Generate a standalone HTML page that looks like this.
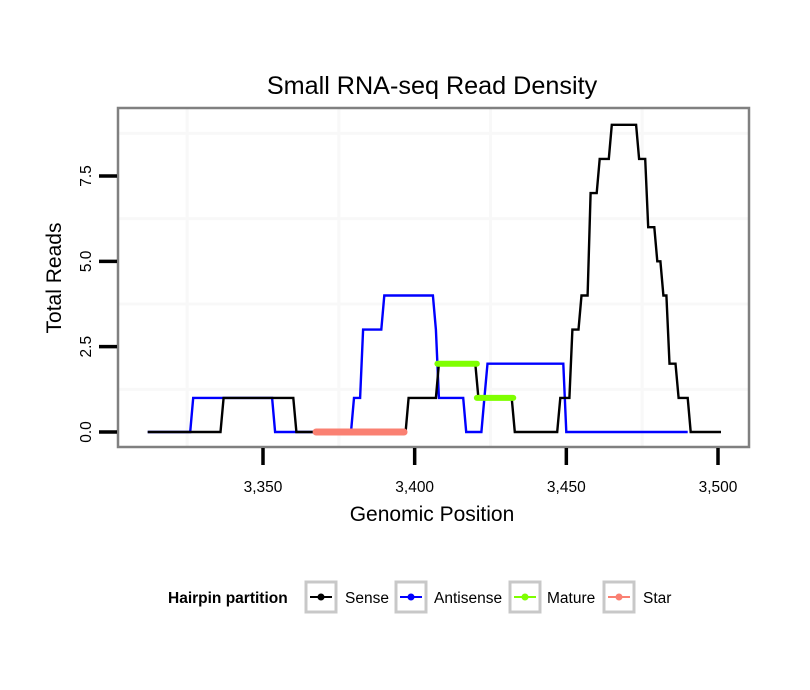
<!DOCTYPE html>
<html><head><meta charset="utf-8"><style>
html,body{margin:0;padding:0;background:#fff;}
svg{display:block;font-family:"Liberation Sans",sans-serif;}
</style></head><body>
<svg id="chart" width="810" height="690" viewBox="0 0 810 690">
<text x="432" y="94" text-anchor="middle" font-size="25.2" fill="#000">Small RNA-seq Read Density</text>
<rect x="118" y="108" width="631" height="339" fill="#fff"/>
<g id="grid"></g>
<g id="series"></g>
<rect x="118" y="108" width="631" height="339" fill="none" stroke="#808080" stroke-width="2.5"/>
<g id="axes"></g>
<text x="432" y="521" text-anchor="middle" font-size="21">Genomic Position</text>
<text transform="translate(61,278) rotate(-90)" text-anchor="middle" font-size="21">Total Reads</text>
<g>
<text x="168" y="603" font-size="15.5" font-weight="bold">Hairpin partition</text>
<g><rect x="306" y="582" width="30" height="30" fill="#fff" stroke="#c8c8c8" stroke-width="3"/><line x1="310" y1="597" x2="332" y2="597" stroke="#000" stroke-width="2"/><circle cx="321" cy="597" r="3.5" fill="#000"/><text x="345" y="603" font-size="15.5">Sense</text></g>
<g><rect x="396" y="582" width="30" height="30" fill="#fff" stroke="#c8c8c8" stroke-width="3"/><line x1="400" y1="597" x2="422" y2="597" stroke="#0000ff" stroke-width="2"/><circle cx="411" cy="597" r="3.5" fill="#0000ff"/><text x="434" y="603" font-size="15.5">Antisense</text></g>
<g><rect x="510" y="582" width="30" height="30" fill="#fff" stroke="#c8c8c8" stroke-width="3"/><line x1="514" y1="597" x2="536" y2="597" stroke="#7fff00" stroke-width="2"/><circle cx="525" cy="597" r="3.5" fill="#7fff00"/><text x="547" y="603" font-size="15.5">Mature</text></g>
<g><rect x="604" y="582" width="30" height="30" fill="#fff" stroke="#c8c8c8" stroke-width="3"/><line x1="608" y1="597" x2="630" y2="597" stroke="#fa8072" stroke-width="2"/><circle cx="619" cy="597" r="3.5" fill="#fa8072"/><text x="643" y="603" font-size="15.5">Star</text></g>
</g>
</svg>
<script>
// Run-length data: [startPosition, value] ; each run lasts until next start
const senseRuns = [[3312,0],[3337,1],[3361,0],[3398,1],[3408,2],[3421,1],[3433,0],[3448,1],[3452,3],[3455,4],[3458,7],[3461,8],[3465,9],[3474,8],[3477,6],[3480,5],[3482,4],[3484,2],[3487,1],[3491,0]];
const senseEnd = 3501;
const antisenseRuns = [[3312,0],[3327,1],[3354,0],[3380,1],[3383,3],[3390,4],[3407,3],[3408,1],[3417,0],[3423,1],[3424,2],[3450,0]];
const antisenseEnd = 3490;
const matureSegs = [[3407.5,3420.5,2],[3420.5,3432.5,1]];
const starSegs = [[3367.5,3396.5,0]];
const xTicks = [3350,3400,3450,3500];
const xTickLabels = ["3,350","3,400","3,450","3,500"];
const yTicks = [0,2.5,5,7.5];
const yTickLabels = ["0.0","2.5","5.0","7.5"];
const xMinor = [3325,3375,3425,3475];
const yMinor = [1.25,3.75,6.25,8.75];

const NS='http://www.w3.org/2000/svg';
const X = g => 263 + (g-3350)*(455/150);
const Y = v => 432 - v*(256/7.5);
function mk(tag, attrs, parent){const e=document.createElementNS(NS,tag);for(const k in attrs)e.setAttribute(k,attrs[k]);parent.appendChild(e);return e;}
const grid=document.getElementById('grid'), series=document.getElementById('series'), axes=document.getElementById('axes');

xMinor.forEach(g=>{const l=mk('line',{x1:X(g),x2:X(g),y1:109,y2:446,stroke:'#f8f8f8','stroke-width':3},grid);

});
yMinor.forEach(v=>{const l=mk('line',{x1:119,x2:748,y1:Y(v),y2:Y(v),stroke:'#f8f8f8','stroke-width':3},grid);

});

function expand(runs,end){const pts=[];for(let i=0;i<runs.length;i++){const s=runs[i][0],v=runs[i][1];const e=i+1<runs.length?runs[i+1][0]-1:end;for(let p=s;p<=e;p++)pts.push([p,v]);}return pts;}
function drawLine(runs,end,color,name){const pts=expand(runs,end);
const p=mk('polyline',{points:pts.map(q=>X(q[0]).toFixed(1)+','+Y(q[1]).toFixed(1)).join(' '),fill:'none',stroke:color,'stroke-width':2.4,'stroke-linejoin':'miter'},series);

}
drawLine(antisenseRuns,antisenseEnd,'#0000ff','antisense-line');
drawLine(senseRuns,senseEnd,'#000000','sense-line');
function drawSegs(segs,color,w,name){segs.forEach(s=>{const l=mk('line',{x1:X(s[0]),x2:X(s[1]),y1:Y(s[2]),y2:Y(s[2]),stroke:color,'stroke-width':w,'stroke-linecap':'round'},series);

});}
drawSegs(starSegs,'#fa8072',7,'star-segment');
drawSegs(matureSegs,'#7fff00',6,'mature-segment');

xTicks.forEach((g,i)=>{const t=mk('line',{x1:X(g),x2:X(g),y1:448,y2:465,stroke:'#000','stroke-width':3.5},axes);


const tx=mk('text',{x:X(g),y:492,'text-anchor':'middle','font-size':15.5},axes);tx.textContent=xTickLabels[i];

});
yTicks.forEach((v,i)=>{const t=mk('line',{x1:99,x2:117,y1:Y(v),y2:Y(v),stroke:'#000','stroke-width':3.5},axes);


const tx=mk('text',{transform:`translate(91,${Y(v)}) rotate(-90)`,'text-anchor':'middle','font-size':15.5},axes);tx.textContent=yTickLabels[i];

});
</script>
</body></html>
